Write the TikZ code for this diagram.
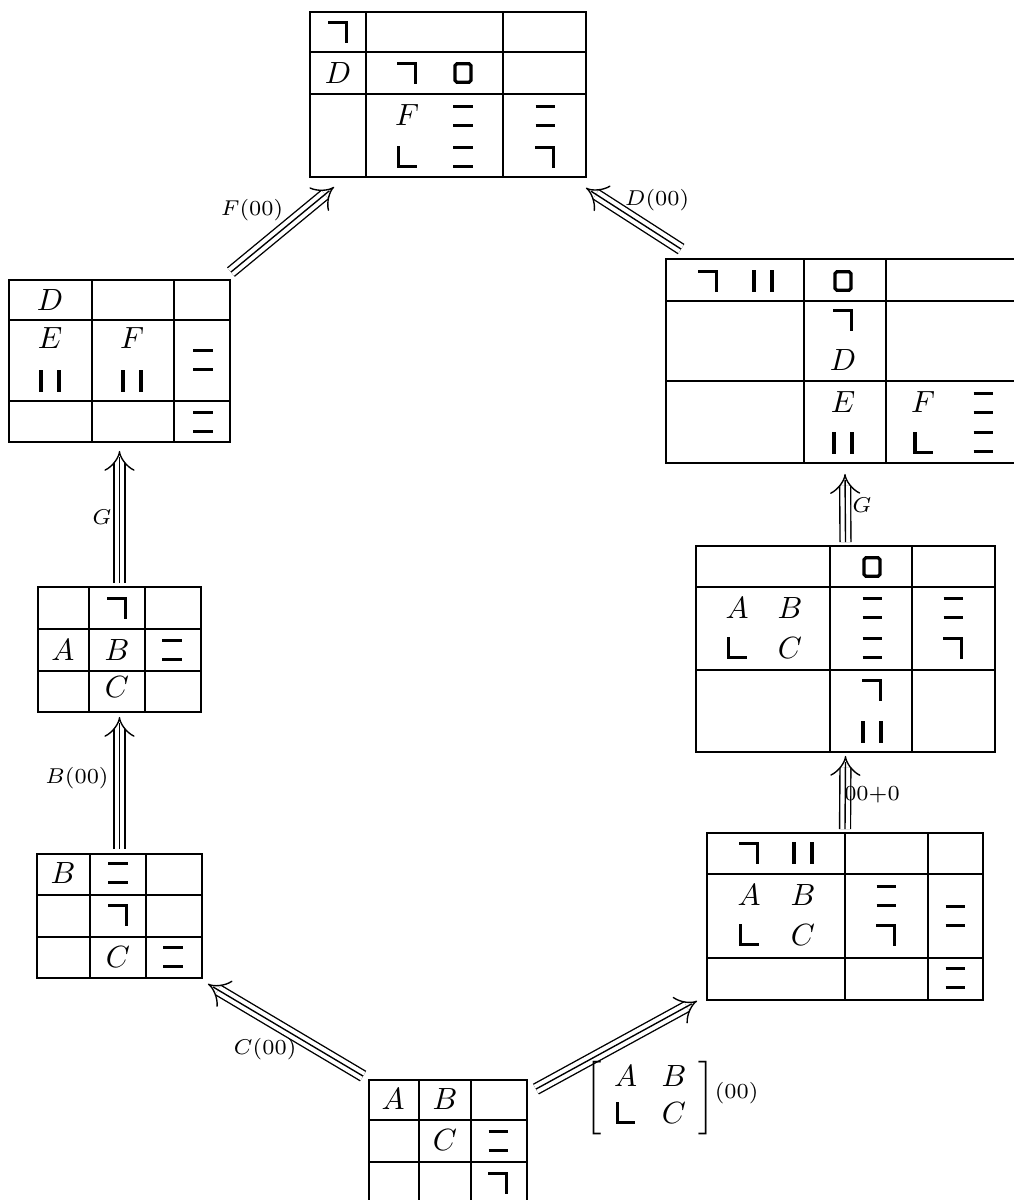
\documentclass[tikz,border=0pt]{standalone}
\usepackage{tikz}
\usetikzlibrary{arrows.meta,fit}

% glyphs used in the cells
\newcommand{\gcorner}{\rule[6pt]{5.3pt}{1.05pt}\rule{1.05pt}{7.05pt}}
\newcommand{\gell}{\rule{1.05pt}{7.05pt}\rule{5.3pt}{1.05pt}}
\newcommand{\gbars}{\rule{1.05pt}{7.05pt}\hspace{4.8pt}\rule{1.05pt}{7.05pt}}
\newcommand{\gtwo}{\rlap{\rule[6pt]{6.2pt}{1.05pt}}\rule{6.2pt}{1.05pt}}
\newcommand{\gsq}{\tikz[baseline=0pt]\draw[line width=1.05pt, rounded corners=0.6pt] (0.5pt,0.5pt) rectangle (5.7pt,6.55pt);}

\begin{document}
\begin{tikzpicture}[x=0.326pt, y=-0.326pt,
    tab/.style={draw, line width=0.6pt, inner sep=0pt},
    grid/.style={line width=0.6pt},
    cell/.style={inner sep=0pt},
    lbl/.style={font=\scriptsize, inner sep=0pt},
    tri/.style={double, double distance=3.1pt, line width=0.45pt, -{Implies},
                postaction={draw, -, shorten >=2pt}}]
  \useasboundingbox (0,0) rectangle (1013,1200);

  % bottom tableau
  \node[tab, fit={(369,1080) (527,1204)}] (T0) {};
  \draw[grid] (419,1080) -- (419,1204) (471,1080) -- (471,1204)
              (369,1120) -- (527,1120) (369,1162) -- (527,1162);
  \node[cell] (T0a) at (393,1099) {$A$};
  \node[cell] (T0b) at (445,1099) {$B$};
  \node[cell] (T0c) at (445,1140) {$C$};
  \node[cell] (T0d) at (498,1141) {\gtwo};
  \node[cell] (T0e) at (498,1183) {\gcorner};

  % left column, bottom
  \node[tab, fit={(37,854) (202,978)}] (T1) {};
  \draw[grid] (90,854) -- (90,978) (146,854) -- (146,978)
              (37,895) -- (202,895) (37,937) -- (202,937);
  \node[cell] (T1a) at (63,873) {$B$};
  \node[cell] (T1b) at (118,873) {\gtwo};
  \node[cell] (T1c) at (118,915) {\gcorner};
  \node[cell] (T1d) at (118,957) {$C$};
  \node[cell] (T1e) at (173,957) {\gtwo};

  % left column, middle
  \node[tab, fit={(38,587) (201,712)}] (T2) {};
  \draw[grid] (89,587) -- (89,712) (145,587) -- (145,712)
              (38,629) -- (201,629) (38,671) -- (201,671);
  \node[cell] (T2a) at (117,608) {\gcorner};
  \node[cell] (T2b) at (63,650) {$A$};
  \node[cell] (T2c) at (117,650) {$B$};
  \node[cell] (T2d) at (172,650) {\gtwo};
  \node[cell] (T2e) at (117,687) {$C$};

  % left column, top
  \node[tab, fit={(9,280) (230,442)}] (T3) {};
  \draw[grid] (92,280) -- (92,442) (174,280) -- (174,442)
              (9,320) -- (230,320) (9,401) -- (230,401);
  \node[cell] (T3a) at (50,300) {$D$};
  \node[cell] (T3b) at (50,338) {$E$};
  \node[cell] (T3c) at (50,381) {\gbars};
  \node[cell] (T3d) at (132,338) {$F$};
  \node[cell] (T3e) at (132,381) {\gbars};
  \node[cell] (T3f) at (203,360) {\gtwo};
  \node[cell] (T3g) at (203,422) {\gtwo};

  % top tableau
  \node[tab, fit={(310,12) (586,177)}] (T4) {};
  \draw[grid] (366,12) -- (366,177) (503,12) -- (503,177)
              (310,52) -- (586,52) (310,94) -- (586,94);
  \node[cell] (T4a) at (338,32) {\gcorner};
  \node[cell] (T4b) at (338,73) {$D$};
  \node[cell] (T4c) at (407,73) {\gcorner};
  \node[cell] (T4d) at (463,73) {\gsq};
  \node[cell] (T4e) at (407,115) {$F$};
  \node[cell] (T4f) at (463,116) {\gtwo};
  \node[cell] (T4g) at (407,157) {\gell};
  \node[cell] (T4h) at (463,157) {\gtwo};
  \node[cell] (T4i) at (545,116) {\gtwo};
  \node[cell] (T4j) at (545,157) {\gcorner};

  % right column, bottom
  \node[tab, fit={(707,833) (983,1000)}] (T5) {};
  \draw[grid] (845,833) -- (845,1000) (928,833) -- (928,1000)
              (707,874) -- (983,874) (707,958) -- (983,958);
  \node[cell] (T5a) at (749,853) {\gcorner};
  \node[cell] (T5b) at (803,853) {\gbars};
  \node[cell] (T5c) at (749,895) {$A$};
  \node[cell] (T5d) at (803,895) {$B$};
  \node[cell] (T5e) at (749,935) {\gell};
  \node[cell] (T5f) at (803,935) {$C$};
  \node[cell] (T5g) at (886,896) {\gtwo};
  \node[cell] (T5h) at (886,935) {\gcorner};
  \node[cell] (T5i) at (955,916) {\gtwo};
  \node[cell] (T5j) at (955,978) {\gtwo};

  % right column, middle
  \node[tab, fit={(696,546) (995,752)}] (T6) {};
  \draw[grid] (830,546) -- (830,752) (912,546) -- (912,752)
              (696,587) -- (995,587) (696,670) -- (995,670);
  \node[cell] (T6a) at (872,567) {\gsq};
  \node[cell] (T6b) at (737,608) {$A$};
  \node[cell] (T6c) at (790,608) {$B$};
  \node[cell] (T6d) at (737,648) {\gell};
  \node[cell] (T6e) at (790,648) {$C$};
  \node[cell] (T6f) at (872,608) {\gtwo};
  \node[cell] (T6g) at (872,648) {\gtwo};
  \node[cell] (T6h) at (953,608) {\gtwo};
  \node[cell] (T6i) at (953,648) {\gcorner};
  \node[cell] (T6j) at (872,690) {\gcorner};
  \node[cell] (T6k) at (872,732) {\gbars};

  % right column, top (runs off the right edge)
  \node[tab, fit={(666,259) (1024,463)}] (T7) {};
  \draw[grid] (804,259) -- (804,463) (886,259) -- (886,463)
              (666,301) -- (1024,301) (666,381) -- (1024,381);
  \node[cell] (T7a) at (708,281) {\gcorner};
  \node[cell] (T7b) at (763,281) {\gbars};
  \node[cell] (T7c) at (843,281) {\gsq};
  \node[cell] (T7d) at (843,320) {\gcorner};
  \node[cell] (T7e) at (843,360) {$D$};
  \node[cell] (T7f) at (843,402) {$E$};
  \node[cell] (T7g) at (843,443) {\gbars};
  \node[cell] (T7h) at (923,402) {$F$};
  \node[cell] (T7i) at (983,403) {\gtwo};
  \node[cell] (T7j) at (923,443) {\gell};
  \node[cell] (T7k) at (983,442) {\gtwo};

  % arrows
  \draw[tri] ([shift={(-5,-3)}]T0.north west) -- ([shift={(5,5)}]T1.south east);
  \draw[tri] ([shift={(0,-4)}]T1.north) -- ([shift={(0,4)}]T2.south);
  \draw[tri] ([shift={(0,-3)}]T2.north) -- ([shift={(0,8)}]T3.south);
  \draw[tri] ([shift={(0,-7)}]T3.north east) -- ([shift={(25,9)}]T4.south west);
  \draw[tri] ([shift={(16,-9)}]T7.north west) -- ([shift={(-1,10)}]T4.south east);
  \draw[tri] ([shift={(0,-3)}]T6.north) -- ([shift={(0,10)}]T7.south);
  \draw[tri] ([shift={(0,-3)}]T5.north) -- ([shift={(0,3)}]T6.south);
  \draw[tri] ([shift={(8,10)}]T0.north east) -- ([shift={(-9,0)}]T5.south west);

  % arrow labels
  \node[lbl] (l0) at (265,1049) {$C(00)$};
  \node[lbl] (l1) at (77,778) {$B(00)$};
  \node[lbl] (l2) at (102,517) {$G$};
  \node[lbl] (l3) at (252,210) {$F(00)$};
  \node[lbl] (l4) at (657,200) {$D(00)$};
  \node[lbl] (l5) at (862,505) {$G$};
  \node[lbl] (l6) at (872,795) {$00{+}0$};
  \node[cell, anchor=west] (l7) at (585,1098)
    {\setlength{\arraycolsep}{4pt}$\left[\begin{array}{cc} A & B\\ \gell & C \end{array}\right]$\raisebox{2.5pt}{\scriptsize(00)}};
\end{tikzpicture}
\end{document}
